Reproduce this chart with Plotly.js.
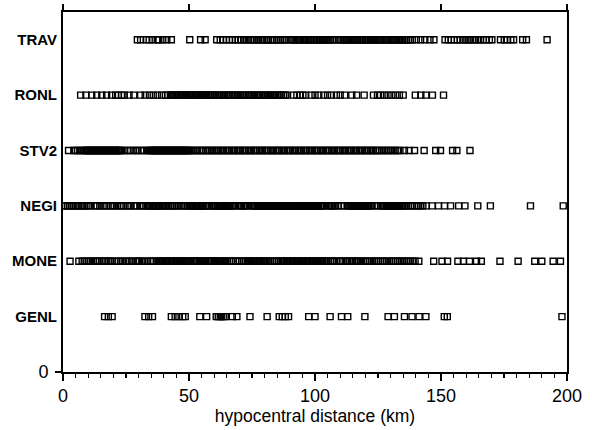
<!DOCTYPE html>
<html><head><meta charset="utf-8">
<script src="https://cdn.plot.ly/plotly-3.0.1.min.js"></script>
<style>html,body{margin:0;padding:0;background:#fff}</style>
</head><body><div id="chart" style="width:592px;height:430px"></div>
<script>
const stations = ['GENL','MONE','NEGI','STV2','RONL','TRAV'];
const stationPos = [1,2,3,4,5,6];
const xTickVals = [0,50,100,150,200];

const GENL = [16.5,18.0,19.5,32.5,34.0,35.5,43.0,44.5,46.0,47.5,48.5,54.3,57.0,60.8,61.6,62.4,63.0,63.8,64.5,67.2,69.0,74.2,81.0,85.8,87.0,88.2,89.5,97.5,100.0,106.0,110.5,113.0,119.8,129.0,131.5,135.5,138.5,141.3,144.0,151.3,152.5,198.0];

const MONE = [2.8,6.3,7.6,8.4,9.3,10.2,11.0,12.0,12.9,13.7,14.5,15.5,16.3,17.0,17.9,18.8,19.5,20.6,21.9,22.8,23.6,24.9,25.8,26.5,27.7,28.9,29.6,30.4,31.5,32.3,33.4,34.6,35.3,36.0,37.2,38.0,
38.6,39.1,39.5,40.0,40.6,41.0,41.5,42.1,42.5,43.0,43.6,44.0,44.5,45.1,45.5,46.0,46.6,47.0,47.5,48.1,48.5,49.0,49.6,50.0,50.5,51.7,52.0,52.6,53.0,53.5,54.1,54.5,55.0,55.6,56.0,56.5,57.6,58.0,58.6,59.0,59.5,60.1,60.5,61.0,61.6,62.0,62.5,63.1,63.5,64.0,64.6,65.3,66.1,66.9,67.6,68.5,69.3,70.0,70.9,71.6,72.4,73.1,73.6,74.0,74.5,75.1,75.5,76.0,76.6,77.0,77.5,78.1,78.5,79.0,79.6,80.0,80.5,81.3,82.2,83.0,83.9,84.7,85.6,86.3,86.9,87.5,88.0,88.6,89.0,89.5,90.1,90.5,91.0,91.6,92.0,92.5,93.1,93.5,94.0,94.6,95.0,95.5,96.1,96.5,97.0,97.6,98.0,98.5,99.1,99.5,100.0,100.6,101.0,101.5,102.1,102.5,103.0,103.6,104.0,104.6,
105.4,106.3,107.0,107.6,108.5,109.6,110.2,111.1,112.3,112.9,113.8,114.4,115.0,115.9,116.5,117.3,118.1,119.2,120.0,120.9,121.7,122.6,123.5,124.3,125.1,126.0,126.9,127.7,128.5,129.4,130.3,131.1,132.0,132.8,133.7,134.5,135.4,136.3,137.2,138.0,138.9,139.7,
141.2,147.1,150.4,152.6,156.7,158.9,161.3,164.1,166.0,173.4,180.6,187.2,190.0,194.5,197.4];

const NEGI = [0.3,1.0,1.8,2.5,3.3,4.0,4.9,5.6,6.3,7.2,7.9,8.6,9.5,10.2,11.0,12.8,13.5,14.6,15.9,16.6,17.4,18.8,19.7,20.3,21.5,22.6,23.2,24.1,25.5,26.2,27.0,28.4,29.1,30.5,31.3,32.0,
33.4,33.9,34.5,35.0,35.6,36.1,36.7,37.2,37.8,38.3,38.9,39.4,40.0,40.6,41.3,42.0,42.8,43.5,44.3,45.2,46.0,46.9,47.7,48.4,49.3,50.0,
50.5,51.0,51.4,52.0,52.5,52.9,53.5,54.0,54.4,55.0,55.5,55.9,56.5,57.0,57.5,59.1,59.6,60.0,60.6,61.1,61.5,62.1,62.6,63.0,63.6,64.1,64.5,65.1,65.6,66.0,66.6,67.1,67.5,68.1,69.9,70.4,70.9,71.5,72.0,72.5,73.1,74.9,75.4,75.9,76.5,77.0,77.5,78.1,78.6,79.1,79.7,80.2,80.7,81.3,81.8,82.3,82.9,83.4,83.9,84.5,85.0,85.5,86.1,86.6,87.1,87.7,88.2,88.7,89.3,89.8,90.3,90.9,91.4,91.9,92.5,93.0,93.5,94.1,94.6,95.1,95.7,96.2,96.7,97.3,97.8,98.3,98.9,99.4,99.9,100.5,101.0,101.5,102.1,102.6,103.1,103.7,
105.5,106.0,106.6,107.1,107.6,108.2,109.3,110.4,111.5,112.9,113.4,113.9,114.5,115.0,115.5,116.1,116.6,117.1,117.7,118.2,118.7,119.3,119.8,120.3,120.9,121.4,121.9,122.5,123.6,125.0,126.2,126.7,127.2,127.8,128.3,128.8,129.4,129.9,130.4,131.0,131.5,132.0,132.6,133.1,133.6,134.2,134.7,135.3,136.1,137.0,137.9,138.6,139.5,140.4,141.1,142.0,142.8,
144.2,146.5,149.0,151.4,153.8,157.0,159.5,164.6,169.6,185.5,198.5];

const STV2 = [2.2,4.3,5.0,5.8,6.9,7.6,8.4,
9.0,9.4,9.8,10.3,10.7,11.1,11.6,12.0,12.4,12.9,13.3,13.7,14.2,14.6,15.0,15.5,15.9,16.3,16.8,17.2,17.6,18.1,18.5,18.9,19.4,19.8,20.2,20.7,21.1,21.5,22.0,22.4,22.8,23.3,
24.5,25.8,26.6,27.9,29.0,29.7,31.1,32.0,33.2,33.9,
34.7,35.1,35.5,36.0,36.4,36.8,37.3,37.7,38.1,38.6,39.0,39.4,39.9,40.3,40.7,41.2,41.6,42.0,42.5,42.9,43.3,43.8,44.2,44.6,45.1,45.5,45.9,46.4,46.8,47.2,47.7,48.1,48.5,49.0,49.4,49.8,50.3,
51.2,51.9,52.8,53.4,54.3,55.1,55.7,56.6,57.3,58.0,58.8,59.5,60.3,61.0,61.6,62.5,63.2,63.8,64.7,65.4,66.0,66.9,67.6,68.2,69.1,69.8,70.4,71.3,72.0,72.6,73.5,74.2,74.8,75.7,76.4,77.0,77.9,78.6,79.2,80.1,80.8,81.4,82.3,83.0,83.6,84.5,85.2,85.8,86.7,87.4,88.0,88.9,89.6,90.2,91.1,91.8,92.4,93.3,94.0,94.6,95.5,96.2,96.8,97.7,98.4,99.0,99.9,100.6,101.2,102.1,102.8,103.4,104.3,105.0,105.6,106.5,107.2,107.8,108.7,109.4,110.0,110.9,111.6,112.2,113.1,113.8,114.4,115.3,116.0,116.6,117.5,118.2,118.8,119.7,120.4,121.0,121.9,122.6,123.2,124.1,124.8,125.6,126.5,127.4,128.2,129.1,130.0,130.9,131.8,132.7,133.7,
135.5,137.3,139.5,143.3,147.9,149.8,154.6,156.3,161.5];

const RONL = [7.0,9.1,11.4,13.4,15.4,17.3,19.3,20.9,22.0,23.2,24.3,26.2,28.1,30.8,32.6,34.3,35.8,37.4,39.1,40.6,41.6,
42.6,43.0,43.5,44.1,44.5,45.0,45.6,46.0,46.5,47.1,47.5,48.0,48.6,49.0,49.5,50.1,50.5,51.0,51.6,52.0,52.5,53.1,53.5,54.0,54.6,55.0,55.5,56.1,56.5,57.0,57.6,58.0,58.6,59.2,
60.0,60.7,61.5,62.1,62.9,63.6,64.2,65.0,65.7,66.3,67.1,67.8,68.4,69.2,69.8,70.5,71.3,71.9,72.6,73.4,74.0,74.8,75.5,76.1,76.9,77.6,78.2,79.0,79.7,80.3,81.1,81.8,82.4,83.2,83.9,84.5,85.3,86.0,86.7,87.5,88.2,88.9,
91.5,92.8,94.2,95.2,96.3,98.5,100.0,101.5,103.5,105.0,106.5,108.5,110.0,111.8,114.6,116.5,119.5,123.2,124.8,126.0,127.5,129.0,130.5,132.0,133.5,135.0,139.8,142.0,144.0,146.6,151.0];

const TRAV = [29.5,30.8,33.0,34.2,35.6,37.4,38.0,39.6,41.2,43.0,50.3,54.6,56.4,
61.0,62.4,63.6,64.9,66.1,67.2,68.4,69.5,70.5,71.7,72.6,73.5,74.5,75.4,76.1,77.0,77.7,78.6,79.3,80.0,80.9,81.5,82.4,83.1,83.8,84.7,85.4,86.3,87.0,87.8,88.5,
90.2,90.8,91.6,92.1,92.9,93.5,94.1,94.8,95.4,96.1,96.6,97.3,98.0,98.4,99.2,99.9,100.5,101.1,101.8,102.4,103.0,103.7,104.3,104.8,105.6,106.2,106.9,107.6,
109.4,110.0,110.7,111.2,111.9,112.5,113.0,113.8,114.4,115.0,115.7,116.3,116.8,117.6,118.2,118.9,119.5,120.1,120.8,121.3,122.0,122.7,123.2,124.0,124.6,125.1,125.9,126.4,127.1,127.8,128.3,129.0,129.7,130.3,131.0,131.6,132.2,132.9,133.5,134.2,134.8,135.5,136.2,137.0,137.8,138.6,
140.2,141.9,143.6,145.6,147.2,
151.6,152.9,154.1,155.3,156.5,157.6,158.7,159.6,160.7,161.6,162.7,163.6,164.8,165.7,166.8,168.0,169.2,170.2,
173.6,175.1,176.3,177.7,178.8,182.4,183.9,192.1];

const dist = {GENL, MONE, NEGI, STV2, RONL, TRAV};

const traces = stations.map((s, i) => ({
  type: 'scatter', mode: 'markers', name: s,
  x: dist[s], y: dist[s].map(() => stationPos[i]),
  marker: {symbol: 'square-open', size: 6, color: '#000', line: {width: 1.4, color: '#000'}},
  hoverinfo: 'skip', showlegend: false
}));
traces.push({type: 'scatter', mode: 'markers', x: [-100], y: [-100], xaxis: 'x2', yaxis: 'y2', showlegend: false, hoverinfo: 'skip', marker: {opacity: 0}});

const layout = {
  width: 592, height: 430,
  margin: {l: 63, r: 25, t: 12, b: 58},
  paper_bgcolor: '#fff', plot_bgcolor: '#fff', showlegend: false,
  font: {family: '"Liberation Sans", Arial, sans-serif', color: '#000'},
  xaxis: {
    range: [0, 200], tickmode: 'linear', tick0: 0, dtick: 50,
    ticks: 'outside', ticklen: 7, tickwidth: 1.5, tickcolor: '#000',
    showline: true, linewidth: 1.8, linecolor: '#000', mirror: true,
    showgrid: false, zeroline: false, tickfont: {size: 18},
    title: {text: 'hypocentral distance (km)', font: {size: 17.5}, standoff: 0},
    minor: {tickmode: 'linear', tick0: 0, dtick: 5, ticks: 'outside', ticklen: 4, tickwidth: 1.2, tickcolor: '#000', showgrid: false}
  },
  xaxis2: {
    overlaying: 'x', anchor: 'y2', side: 'top', range: [0, 200],
    tickmode: 'array', tickvals: xTickVals,
    ticks: 'outside', ticklen: 7, tickwidth: 1.5, tickcolor: '#000',
    showticklabels: false, showgrid: false, zeroline: false, showline: false
  },
  yaxis: {
    range: [0, 6.5], tickvals: [0], ticktext: ['0'],
    ticks: 'outside', ticklen: 6, tickwidth: 1.5, tickcolor: '#000',
    showline: true, linewidth: 1.8, linecolor: '#000', mirror: true,
    showgrid: false, zeroline: false, tickfont: {size: 18}, ticklabelstandoff: 3
  },
  yaxis2: {
    overlaying: 'y', anchor: 'x2', side: 'left', range: [0, 6.5],
    tickvals: stationPos, ticktext: stations.map(s => '<b>' + s + '</b>'),
    ticks: '', showgrid: false, zeroline: false, showline: false,
    tickfont: {size: 15}, ticklabelstandoff: 5
  }
};

Plotly.newPlot('chart', traces, layout, {staticPlot: true, displayModeBar: false});
</script>
</body></html>
